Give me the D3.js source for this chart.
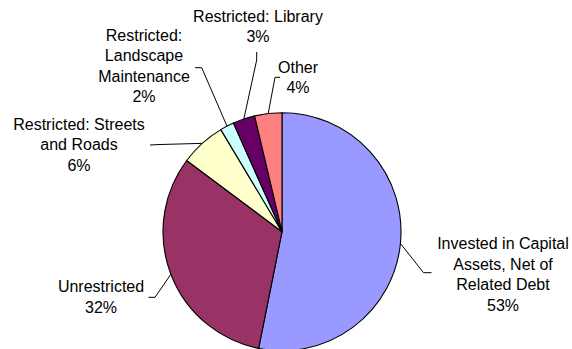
<!DOCTYPE html>
<html>
<head>
<meta charset="utf-8">
<script src="https://cdn.jsdelivr.net/npm/d3@7"></script>
<style>
  html, body { margin: 0; padding: 0; background: #ffffff; }
  svg { display: block; }
  text { font-family: "Liberation Sans", Arial, sans-serif; fill: #000; }
</style>
</head>
<body>
<svg id="chart" width="572" height="349"></svg>
<script>
// ---- data ----
const categories = [
  "Invested in Capital Assets, Net of Related Debt",
  "Unrestricted",
  "Restricted: Streets and Roads",
  "Restricted: Landscape Maintenance",
  "Restricted: Library",
  "Other"
];
const values = [53.2, 32.1, 6.2, 1.9, 3.0, 3.7];
const percentLabels = ["53%", "32%", "6%", "2%", "3%", "4%"];
const labelLines = [
  ["Invested in Capital", "Assets, Net of", "Related Debt"],
  ["Unrestricted"],
  ["Restricted: Streets", "and Roads"],
  ["Restricted:", "Landscape", "Maintenance"],
  ["Restricted: Library"],
  ["Other"]
];
const colors = ["#9999FF", "#993366", "#FFFFCC", "#CCFFFF", "#660066", "#FF8080"];

// ---- layout ----
const W = 572, H = 349;
const cx = 282, cy = 231.7, R = 119;
const fontSize = 16;
const lineH = 20.5;
// label block: center x, first-line center y; leader: elbow and end points
const labelPos = [
  { x: 503, y: 243.5, elbow: [423.5, 272.7], end: [431.5, 272.7] },
  { x: 101, y: 286.7, elbow: [155, 297.3], end: [148.5, 297.3] },
  { x: 79,  y: 124,   elbow: [160, 144.5], end: [150, 145] },
  { x: 144, y: 35,    elbow: [201.7, 67.7], end: [195, 67.7] },
  { x: 258, y: 16,    elbow: [256.7, 60], end: [256.7, 52] },
  { x: 298, y: 67,    elbow: [275, 77.3], end: [280, 77.3] }
];

const svg = d3.select("#chart");
const g = svg.append("g").attr("transform", `translate(${cx},${cy})`);

const pie = d3.pie().sort(null).value(d => d.v);
const data = values.map((v, i) => ({ v, i }));
const arcs = pie(data);
const arc = d3.arc().innerRadius(0).outerRadius(R);

g.selectAll("path.slice")
  .data(arcs)
  .enter().append("path")
  .attr("class", "slice")
  .attr("d", arc)
  .attr("fill", d => colors[d.data.i])
  .attr("stroke", "#000")
  .attr("stroke-width", 1.1)
  .attr("stroke-linejoin", "round");

// leader lines
arcs.forEach((a, i) => {
  const mid = (a.startAngle + a.endAngle) / 2;
  const px = cx + R * Math.sin(mid);
  const py = cy - R * Math.cos(mid);
  const p = labelPos[i];
  svg.append("polyline")
    .attr("points", [[px, py], p.elbow, p.end].map(q => q.join(",")).join(" "))
    .attr("fill", "none")
    .attr("stroke", "#000")
    .attr("stroke-width", 1);
});

// labels
arcs.forEach((a, i) => {
  const p = labelPos[i];
  const lines = labelLines[i].concat([percentLabels[i]]);
  const t = svg.append("text")
    .attr("text-anchor", "middle")
    .attr("font-size", fontSize);
  lines.forEach((ln, k) => {
    t.append("tspan")
      .attr("x", p.x)
      .attr("y", p.y + k * lineH + fontSize * 0.36)
      .text(ln);
  });
});
</script>
</body>
</html>
